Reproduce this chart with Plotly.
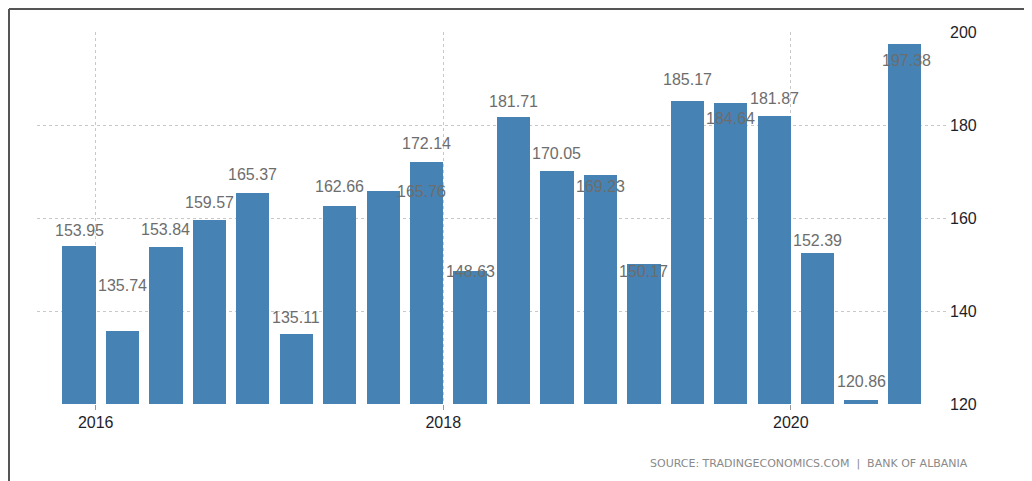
import plotly.graph_objects as go

quarters = ["2016Q1", "2016Q2", "2016Q3", "2016Q4", "2017Q1", "2017Q2", "2017Q3", "2017Q4",
            "2018Q1", "2018Q2", "2018Q3", "2018Q4", "2019Q1", "2019Q2", "2019Q3", "2019Q4",
            "2020Q1", "2020Q2", "2020Q3", "2020Q4"]
values = [153.95, 135.74, 153.84, 159.57, 165.37, 135.11, 162.66, 165.76,
          172.14, 148.63, 181.71, 170.05, 169.23, 150.17, 185.17, 184.64,
          181.87, 152.39, 120.86, 197.38]
tick_labels = ["2016", "2018", "2020"]
tick_index = [0, 8, 16]
# label offsets (pixels) to mimic the reference's label collision avoidance
label_yshift = [16, 45, 17, 18, 19, 16, 19, 0, 18, -1, 16, 18, -11, -8, 21, -15, 18, 13, 19, -16]
label_xshift = [0, 0, 0, 0, 0, 0, 0, 38, 0, 0, 0, 0, 0, 0, 0, 0, 0, 0, 0, 2]

pos = list(range(len(values)))
bar_w = 0.767
tickvals = [i + bar_w / 2 for i in tick_index]

fig = go.Figure()
fig.add_trace(go.Bar(x=pos, y=values, width=bar_w, marker=dict(color="#4682B4", line=dict(width=0)),
                     hoverinfo="text", hovertext=quarters))

for i, v in enumerate(values):
    fig.add_annotation(x=i, y=v, text=f"{v:.2f}", showarrow=False,
                       yshift=label_yshift[i], xshift=label_xshift[i],
                       font=dict(family="Liberation Sans", size=16, color="#6d6d6d"))

# page body has an 8px margin; compensate so the plot area lands at the reference spot
OFF = 8
L, R, T, B = 37 - OFF, 84 + OFF, 32 - OFF, 77 + OFF
W, H = 1032, 481
pw = W - L - R
ph = H - T - B

fig.add_annotation(xref="paper", yref="paper", x=(970 - OFF - L) / pw, y=-(463 - 404) / ph,
                   xanchor="right", yanchor="middle",
                   text="SOURCE: TRADINGECONOMICS.COM  |  BANK OF ALBANIA", showarrow=False,
                   font=dict(family="DejaVu Sans", size=11, color="#8a8a8a"))

fig.add_shape(type="line", xref="paper", yref="paper",
              x0=(1 - L) / pw, x1=(1030 - L) / pw, y0=1 + (T - 1) / ph, y1=1 + (T - 1) / ph,
              line=dict(color="#555555", width=2))
fig.add_shape(type="line", xref="paper", yref="paper",
              x0=(1 - L) / pw, x1=(1 - L) / pw, y0=1 + (T - 1) / ph, y1=-(B + 5) / ph,
              line=dict(color="#555555", width=2))

fig.update_layout(
    width=W, height=H,
    margin=dict(l=L, r=R, t=T, b=B),
    paper_bgcolor="white", plot_bgcolor="white",
    showlegend=False, bargap=0,
    xaxis=dict(range=[-0.967, 20.0], tickvals=tickvals, ticktext=tick_labels,
               showgrid=True, gridcolor="#c8c8c8", griddash="dot", gridwidth=1,
               ticks="outside", ticklen=5, tickcolor="#999999", ticklabelstandoff=-1,
               tickfont=dict(family="Liberation Sans", size=16, color="#1e1e2a"),
               zeroline=False, showline=False),
    yaxis=dict(range=[120, 200], tickvals=[120, 140, 160, 180, 200], side="right",
               showgrid=True, gridcolor="#c8c8c8", griddash="dot", gridwidth=1,
               tickfont=dict(family="Liberation Sans", size=16, color="#1e1e2a"),
               zeroline=False, showline=False, ticklabelstandoff=1),
)

fig.write_html("out.html")
